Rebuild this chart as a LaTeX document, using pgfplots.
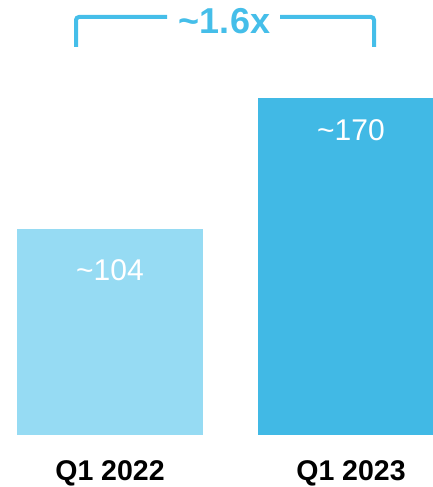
\documentclass[border=0pt]{standalone}
\usepackage{pgfplots}
\pgfplotsset{compat=1.18}
\usepackage{fontspec}
\setmainfont{Liberation Sans}
\definecolor{barA}{RGB}{150,219,243}
\definecolor{barB}{RGB}{65,185,229}
\definecolor{brk}{RGB}{69,190,233}
\begin{document}
\begin{tikzpicture}
\begin{axis}[
  name=ax,
  scale only axis, width=433pt, height=487pt,
  xmin=0, xmax=433, ymin=-26.24, ymax=219.48,
  axis line style={draw=none}, major tick length=0pt,
  ytick=\empty,
  xtick={110,351}, xticklabels={Q1 2022, Q1 2023},
  xticklabel style={anchor=base, inner sep=0pt, yshift=6.5pt, font=\bfseries\fontsize{28.5}{31}\selectfont, text=black},
  ybar, bar width=186, bar shift=0pt,
  clip=true,
]
\addplot[fill=barA, draw=none] coordinates {(110,104)};
\addplot[fill=barB, draw=none] coordinates {(351,170)};
\node[anchor=base, text=white, font=\fontsize{30}{33}\selectfont] at (axis cs:110,78.2) {\textasciitilde104};
\node[anchor=base, text=white, font=\fontsize{30}{33}\selectfont] at (axis cs:351,148.6) {\textasciitilde170};
\draw[brk, line width=4pt, rounded corners=3pt] (axis cs:167,210.9) -- (axis cs:76,210.9) -- (axis cs:76,195.8);
\draw[brk, line width=4pt, rounded corners=3pt] (axis cs:280,210.9) -- (axis cs:374,210.9) -- (axis cs:374,195.8);
\node[anchor=base, text=brk, font=\bfseries\fontsize{36}{39}\selectfont] at (axis cs:224.5,202.8) {\textasciitilde1.6x};
\end{axis}
\pgfresetboundingbox
\path[use as bounding box] (ax.south west) rectangle (ax.north east);
\end{tikzpicture}
\end{document}
